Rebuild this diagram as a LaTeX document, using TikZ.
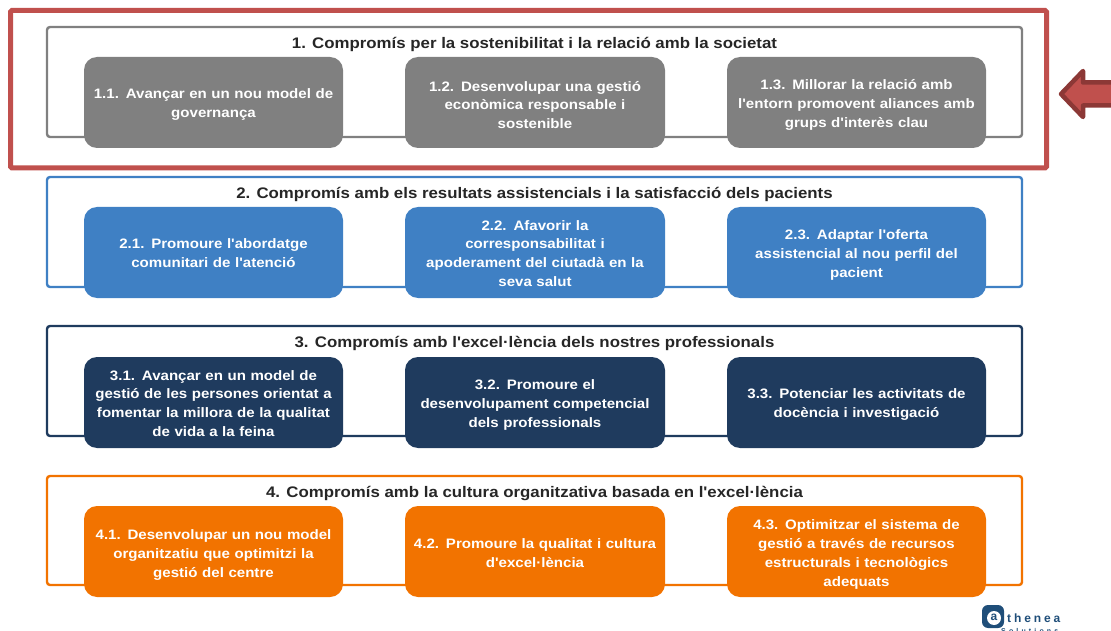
\documentclass[tikz,border=0pt]{standalone}
\usepackage{fontspec}
\newfontfamily\lib{Liberation Sans}[FakeStretch=1.1]
\newfontfamily\libplain{Liberation Sans}
\definecolor{cgray}{HTML}{808080}
\definecolor{cblue}{HTML}{3F80C4}
\definecolor{cnavy}{HTML}{1F3B5E}
\definecolor{corange}{HTML}{F27300}
\definecolor{cred}{HTML}{C0504D}
\definecolor{cdred}{HTML}{8C3836}
\definecolor{clogo}{HTML}{1F4E79}
\tikzset{
 band/.style={draw=#1,line width=2.4pt,rounded corners=3pt,fill=white},
 inner/.style={fill=#1,draw=none,rounded corners=13pt},
 itext/.style={text=white,font=\lib\bfseries\fontsize{13.7}{18.8}\selectfont,align=center,text width=256pt,inner sep=0pt},
 ttext/.style={text=black!85,font=\lib\bfseries\fontsize{15.3}{16}\selectfont,inner sep=0pt}
}
\newcommand{\rowbox}[6]{%
 % #1 name #2 colour #3 top #4 bottom #5 title #6 inner top
 \draw[band=#2] (47,#3) rectangle (1022,#4);
 \node[ttext] (#1t) at (534.5,#3+17.5) {#5};
 \fill[inner=#2] (84,#6) rectangle (343,#6+91);
 \fill[inner=#2] (405,#6) rectangle (665,#6+91);
 \fill[inner=#2] (727,#6) rectangle (986,#6+91);
}
\begin{document}
\begin{tikzpicture}[x=1pt,y=-1pt]
\useasboundingbox (0,0) rectangle (1111,631);
\clip (0,0) rectangle (1111,631);
\draw[cred,line width=5pt,rounded corners=1.5pt] (10.5,10.5) rectangle (1046.5,168);
\rowbox{a}{cgray}{27}{137}{1. Compromís per la sostenibilitat i la relació amb la societat}{57}
\rowbox{b}{cblue}{177}{287}{2. Compromís amb els resultats assistencials i la satisfacció dels pacients}{207}
\rowbox{c}{cnavy}{326}{436}{3. Compromís amb l'excel·lència dels nostres professionals}{357}
\rowbox{d}{corange}{476}{585}{4. Compromís amb la cultura organitzativa basada en l'excel·lència}{506}
\node[itext] (aa) at (213.5,104.8) {1.1. Avançar en un nou model de\\governança};
\node[itext] (ab) at (535,105) {1.2. Desenvolupar una gestió\\econòmica responsable i\\sostenible};
\node[itext] (ac) at (856.5,105) {1.3. Millorar la relació amb\\l'entorn promovent aliances amb\\grups d'interès clau};
\node[itext] (ba) at (213.5,253) {2.1. Promoure l'abordatge\\comunitari de l'atenció};
\node[itext] (bb) at (535,253.5) {2.2. Afavorir la\\corresponsabilitat i\\apoderament del ciutadà en la\\seva salut};
\node[itext] (bc) at (856.5,255) {2.3. Adaptar l'oferta\\assistencial al nou perfil del\\pacient};
\node[itext] (ca) at (213.5,403.5) {3.1. Avançar en un model de\\gestió de les persones orientat a\\fomentar la millora de la qualitat\\de vida a la feina};
\node[itext] (cb) at (535,405) {3.2. Promoure el\\desenvolupament competencial\\dels professionals};
\node[itext] (cc) at (856.5,404.5) {3.3. Potenciar les activitats de\\docència i investigació};
\node[itext] (da) at (213.5,555) {4.1. Desenvolupar un nou model\\organitzatiu que optimitzi la\\gestió del centre};
\node[itext] (db) at (535,553) {4.2. Promoure la qualitat i cultura\\d'excel·lència};
\node[itext] (dc) at (856.5,554.5) {4.3. Optimitzar el sistema de\\gestió a través de recursos\\estructurals i tecnològics\\adequats};
% arrow
\draw[cdred,fill=cred,line width=4.5pt,line join=round] (1115,82.5) -- (1083,82.5) -- (1083,71) -- (1061,94) -- (1083,117) -- (1083,105.5) -- (1115,105.5) -- cycle;
% logo
\fill[clogo,rounded corners=6pt] (982,605) rectangle (1004,628);
\node[circle,fill=white,minimum size=14pt,inner sep=0pt] (logoc) at (994,618) {};
\node[text=clogo,font=\libplain\bfseries\fontsize{12}{12}\selectfont,inner sep=0pt] (logoa) at (994,617.5) {a};
\node[text=clogo,font=\libplain\bfseries\fontsize{12}{12}\selectfont\addfontfeature{LetterSpace=24},inner sep=0pt,anchor=west] (logot) at (1007,618) {thenea};
\node[text=clogo,font=\libplain\bfseries\fontsize{7}{7}\selectfont\addfontfeature{LetterSpace=45},inner sep=0pt,anchor=west] (logos) at (1001,630.5) {Solutions};
\end{tikzpicture}
\end{document}
